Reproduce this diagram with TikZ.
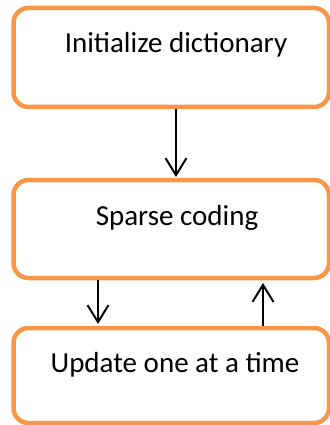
\documentclass[tikz,border=0pt]{standalone}
\usepackage{fontspec}
\setmainfont{Carlito}
\usetikzlibrary{arrows.meta}
\definecolor{boxorange}{HTML}{F79646}
\begin{document}
\begin{tikzpicture}[x=1pt,y=-1pt,
  box/.style={draw=boxorange,line width=4.5pt,rounded corners=15pt,fill=white},
  lbl/.style={font=\fontsize{29}{34}\selectfont,anchor=base,inner sep=0pt},
  conn/.style={line width=2pt,-{Straight Barb[length=17pt,width=21pt,line width=2pt]}}]
\useasboundingbox (0,0) rectangle (329,425);
\draw[box] (13.5,8) rectangle (329,107);
\draw[box] (13.5,180) rectangle (329,278);
\draw[box] (13.5,328) rectangle (329,423);
\node[lbl] (t1) at (176,53) {Initialize dictionary};
\node[lbl] (t2) at (177,225) {Sparse coding};
\node[lbl] (t3) at (175,372) {Update one at a time};
\coordinate (a1s) at (176,109);
\coordinate (a1e) at (176,177);
\coordinate (a2s) at (98,280);
\coordinate (a2e) at (98,324);
\coordinate (a3s) at (263,326);
\coordinate (a3e) at (263,283);
\draw[conn] (a1s) -- (a1e);
\draw[conn] (a2s) -- (a2e);
\draw[conn] (a3s) -- (a3e);
\end{tikzpicture}
\end{document}
